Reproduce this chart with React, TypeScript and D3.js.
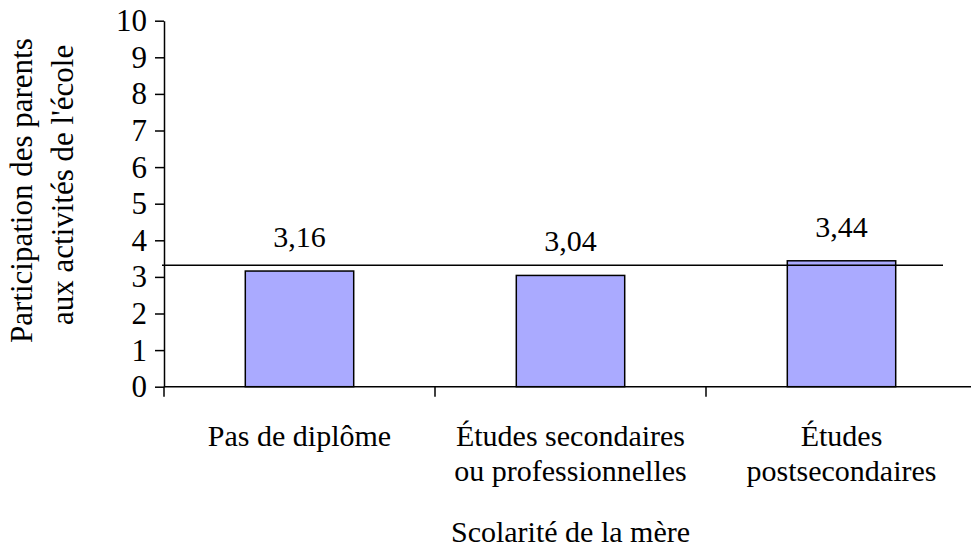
import { useEffect, useRef } from 'react';
import * as d3 from 'd3';

// Data
const categories = ['Pas de diplôme', 'Études secondaires\nou professionnelles', 'Études\npostsecondaires'];
const values = [3.16, 3.04, 3.44];
const averageValue = 3.32;
const yTicks = [0, 1, 2, 3, 4, 5, 6, 7, 8, 9, 10];
const yTitle = ['Participation des parents', "aux activités de l'école"];
const xTitle = 'Scolarité de la mère';

const W = 971;
const H = 549;
const FONT = '"Liberation Serif", "Times New Roman", serif';

export default function App() {
  const ref = useRef<SVGSVGElement>(null);

  useEffect(() => {
    const svg = d3.select(ref.current);
    svg.selectAll('*').remove();

    const left = 164, right = 977, top = 20.7, bottom = 386.7;

    const x = d3.scaleBand<string>().domain(categories).range([left, right]);
    const y = d3.scaleLinear().domain([0, 10]).range([bottom, top]);
    const fmt = d3.formatLocale({ decimal: ',', thousands: ' ', grouping: [3], currency: ['', ' €'] }).format('.2f');

    svg.append('rect').attr('width', W).attr('height', H).attr('fill', '#fff');

    // Bars
    const barW = x.bandwidth() * 0.4;
    svg.append('g')
      .selectAll('rect')
      .data(values)
      .join('rect')
      .attr('x', (d, i) => x(categories[i])! + (x.bandwidth() - barW) / 2)
      .attr('y', d => y(d))
      .attr('width', barW)
      .attr('height', d => y(0) - y(d))
      .attr('fill', '#aaaaff')
      .attr('stroke', '#000')
      .attr('stroke-width', 1.5);

    // Reference line (overall mean)
    svg.append('line')
      .attr('x1', left - 2)
      .attr('x2', 943)
      .attr('y1', y(averageValue))
      .attr('y2', y(averageValue))
      .attr('stroke', '#000')
      .attr('stroke-width', 1.5);

    // Y axis
    const yAxis = svg.append('g')
      .attr('transform', `translate(${left},0)`)
      .call(d3.axisLeft(y).tickValues(yTicks).tickSize(9).tickSizeOuter(0).tickPadding(8));
    yAxis.selectAll('path, line').attr('stroke', '#000').attr('stroke-width', 1.5);
    yAxis.selectAll('text')
      .attr('fill', '#000')
      .style('font-family', FONT)
      .style('font-size', '31px');

    // X axis line and category separators
    svg.append('line')
      .attr('x1', left).attr('x2', W)
      .attr('y1', y(0)).attr('y2', y(0))
      .attr('stroke', '#000').attr('stroke-width', 1.5);
    svg.append('g')
      .selectAll('line')
      .data([...categories.map(c => x(c)!), right])
      .join('line')
      .attr('x1', d => d).attr('x2', d => d)
      .attr('y1', y(0)).attr('y2', y(0) + 10)
      .attr('stroke', '#000').attr('stroke-width', 1.5);

    // Value labels
    svg.append('g')
      .selectAll('text')
      .data(values)
      .join('text')
      .attr('x', (d, i) => x(categories[i])! + x.bandwidth() / 2)
      .attr('y', d => y(d) - 24)
      .attr('text-anchor', 'middle')
      .style('font-family', FONT)
      .style('font-size', '30px')
      .text(d => fmt(d));

    // Category labels
    const cat = svg.append('g')
      .selectAll('text')
      .data(categories)
      .join('text')
      .attr('text-anchor', 'middle')
      .style('font-family', FONT)
      .style('font-size', '30px');
    cat.each(function (c) {
      const t = d3.select(this);
      const cx = x(c)! + x.bandwidth() / 2;
      c.split('\n').forEach((line, i) => {
        t.append('tspan').attr('x', cx).attr('y', 446 + i * 35).text(line);
      });
    });

    // X title
    svg.append('text')
      .attr('x', (left + right) / 2)
      .attr('y', 542)
      .attr('text-anchor', 'middle')
      .style('font-family', FONT)
      .style('font-size', '30px')
      .text(xTitle);

    // Y title (first line is clipped at the top as in the original)
    svg.append('clipPath').attr('id', 'ytitle-clip')
      .append('rect').attr('x', 0).attr('y', 29).attr('width', 140).attr('height', 500);
    const yt = svg.append('g').attr('clip-path', 'url(#ytitle-clip)');
    yt.append('text')
      .attr('transform', 'translate(32,343) rotate(-90)')
      .style('font-family', FONT)
      .style('font-size', '31px')
      .text(yTitle[0]);
    yt.append('text')
      .attr('transform', 'translate(73,325) rotate(-90)')
      .style('font-family', FONT)
      .style('font-size', '31px')
      .text(yTitle[1]);
  }, []);

  return (
    <svg
      ref={ref}
      width={W}
      height={H}
      style={{ position: 'absolute', left: 0, top: 0, display: 'block' }}
    />
  );
}
